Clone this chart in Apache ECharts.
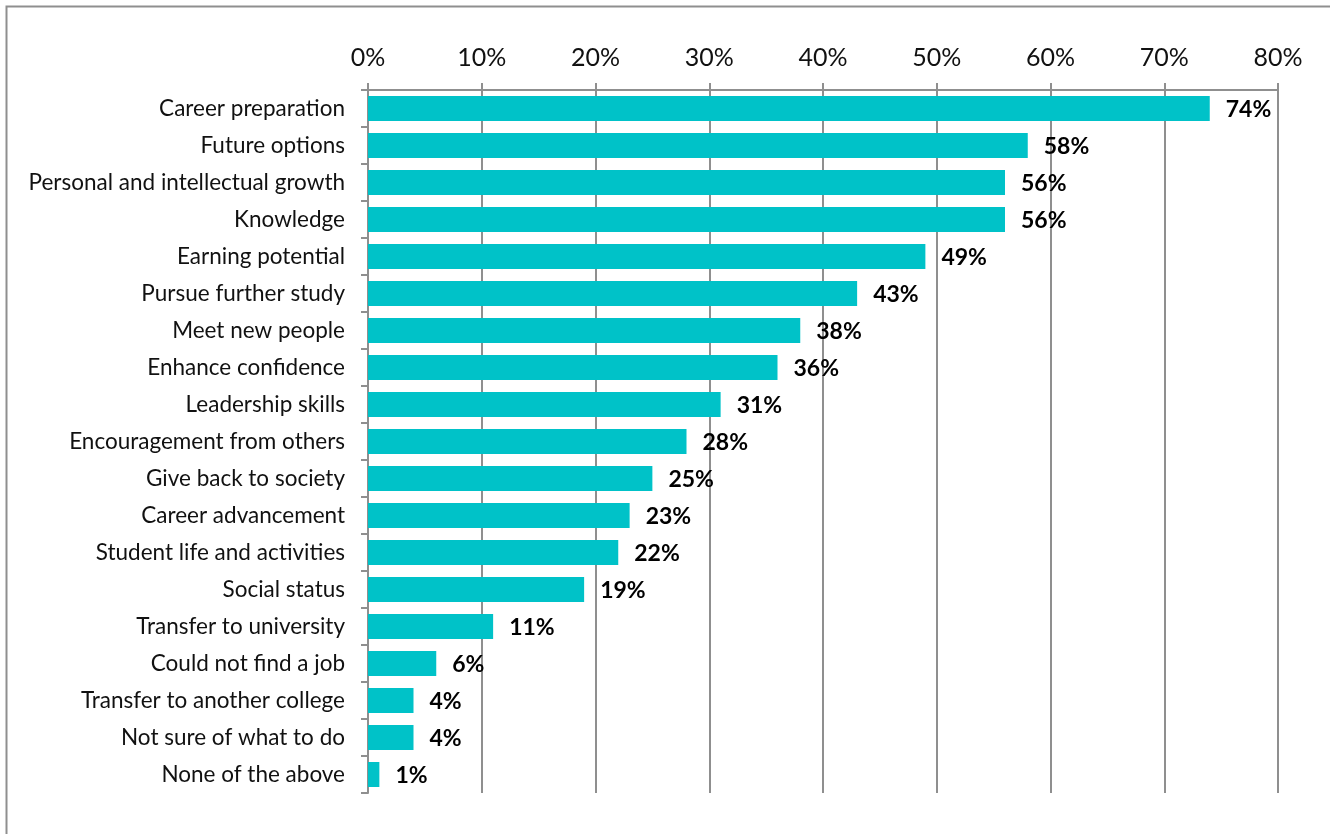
<!DOCTYPE html>
<html>
<head>
<meta charset="utf-8">
<script src="https://cdn.jsdelivr.net/npm/echarts@6/dist/echarts.min.js"></script>
<style>
  html, body { margin: 0; padding: 0; background: #fff; }
  #chart { width: 1330px; height: 834px; }
</style>
</head>
<body>
<div id="chart"></div>
<script>
// Reasons for enrolling, share of respondents (%)
const categories = [
  'Career preparation',
  'Future options',
  'Personal and intellectual growth',
  'Knowledge',
  'Earning potential',
  'Pursue further study',
  'Meet new people',
  'Enhance confidence',
  'Leadership skills',
  'Encouragement from others',
  'Give back to society',
  'Career advancement',
  'Student life and activities',
  'Social status',
  'Transfer to university',
  'Could not find a job',
  'Transfer to another college',
  'Not sure of what to do',
  'None of the above'
];
const values = [74, 58, 56, 56, 49, 43, 38, 36, 31, 28, 25, 23, 22, 19, 11, 6, 4, 4, 1];
const axisMin = 0;
const axisMax = 80;
const axisStep = 10;

const gridColor = '#8f8f8f';
const font = 'Lato, "Open Sans", "Noto Sans", sans-serif';

const chart = echarts.init(document.getElementById('chart'), null, { renderer: 'canvas' });
chart.setOption({
  animation: false,
  backgroundColor: '#ffffff',
  graphic: [{
    type: 'rect',
    shape: { x: 6.5, y: 6.5, width: 1340, height: 900 },
    style: { fill: 'none', stroke: gridColor, lineWidth: 2 },
    silent: true
  }],
  grid: { left: 368, right: 52, top: 90, bottom: 41, containLabel: false },
  xAxis: {
    type: 'value',
    position: 'top',
    min: axisMin,
    max: axisMax,
    interval: axisStep,
    axisLine: { show: true, lineStyle: { color: gridColor, width: 2 } },
    axisTick: { show: true, length: 7, lineStyle: { color: gridColor, width: 2 } },
    axisLabel: {
      formatter: v => v + '%',
      color: '#111',
      fontSize: 25,
      fontFamily: font,
      margin: 20
    },
    splitLine: { show: true, lineStyle: { color: gridColor, width: 2 } }
  },
  yAxis: {
    type: 'category',
    data: categories,
    inverse: true,
    axisLine: { show: true, lineStyle: { color: gridColor, width: 2 } },
    axisTick: { show: true, length: 7, lineStyle: { color: gridColor, width: 2 } },
    axisLabel: {
      color: '#111',
      fontSize: 22.5,
      fontFamily: font,
      margin: 23
    },
    splitLine: { show: false }
  },
  series: [{
    type: 'bar',
    data: values,
    barWidth: 25,
    itemStyle: { color: '#00C2C8' },
    label: {
      show: true,
      position: 'right',
      distance: 16,
      offset: [0, 1],
      formatter: p => p.value + '%',
      color: '#000',
      fontWeight: 'bold',
      fontSize: 23,
      fontFamily: font
    }
  }]
});
</script>
</body>
</html>
